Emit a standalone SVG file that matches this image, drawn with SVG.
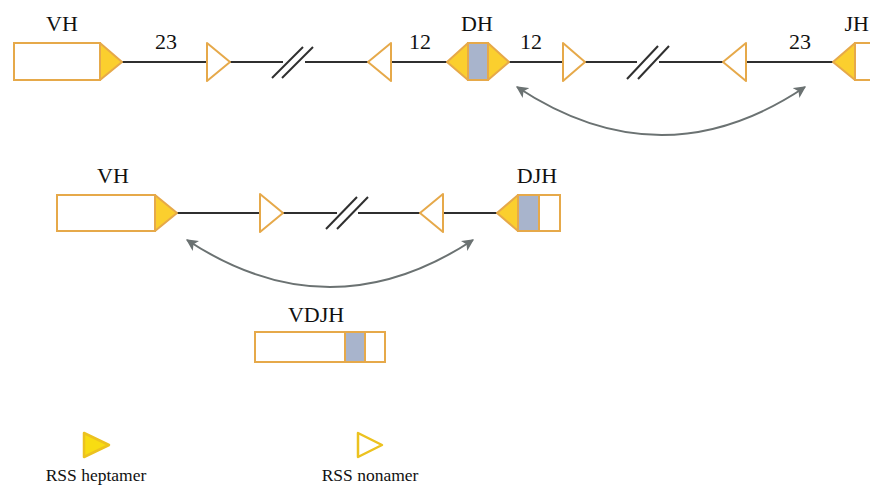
<svg xmlns="http://www.w3.org/2000/svg" width="870" height="487" viewBox="0 0 870 487">
  <defs>
    <marker id="arrowhead" viewBox="0 0 10 10" refX="9" refY="5" markerWidth="6" markerHeight="6" markerUnits="strokeWidth" orient="auto-start-reverse">
      <path d="M0,0 L10,5 L0,10 L2.5,5 Z" fill="#6b7272"/>
    </marker>
  </defs>
  <style>
    .lbl { font-family: "Liberation Serif", "Times New Roman", serif; font-size: 22px; fill: #111; text-anchor: middle; }
    .leg { font-family: "Liberation Serif", "Times New Roman", serif; font-size: 17.5px; fill: #111; text-anchor: middle; }
    .seg { fill: #ffffff; stroke: #e6a94a; stroke-width: 2; }
    .hep { fill: #fbcf2e; stroke: #e6a94a; stroke-width: 2; stroke-linejoin: round; }
    .non { fill: #ffffff; stroke: #e6a94a; stroke-width: 2; stroke-linejoin: round; }
    .d { fill: #a8b4cc; stroke: #e6a94a; stroke-width: 2; }
    .dna { stroke: #2f2f2f; stroke-width: 2; fill: none; }
    .brk { stroke: #2f2f2f; stroke-width: 2; }
    .arc { stroke: #6b7272; stroke-width: 2; fill: none; marker-start: url(#arrowhead); marker-end: url(#arrowhead); }
  </style>

  <!-- DNA backbone lines with break marks -->
  <g id="connectors">
    <!-- germline locus -->
    <line class="dna" x1="122" y1="62" x2="207" y2="62"/>
    <line class="dna" x1="230" y1="62" x2="283" y2="62"/>
    <line class="brk" x1="272" y1="78" x2="303" y2="47"/>
    <line class="brk" x1="282" y1="78" x2="313" y2="47"/>
    <line class="dna" x1="305" y1="62" x2="368" y2="62"/>
    <line class="dna" x1="391" y1="62" x2="447" y2="62"/>
    <line class="dna" x1="509" y1="62" x2="563" y2="62"/>
    <line class="dna" x1="585" y1="62" x2="637" y2="62"/>
    <line class="brk" x1="627" y1="79" x2="658" y2="46"/>
    <line class="brk" x1="638" y1="79" x2="669" y2="46"/>
    <line class="dna" x1="659" y1="62" x2="723" y2="62"/>
    <line class="dna" x1="746" y1="62" x2="833" y2="62"/>
    <!-- D-J joined locus -->
    <line class="dna" x1="177" y1="213" x2="260" y2="213"/>
    <line class="dna" x1="283" y1="213" x2="337" y2="213"/>
    <line class="brk" x1="326" y1="229" x2="357" y2="197"/>
    <line class="brk" x1="337" y1="229" x2="368" y2="197"/>
    <line class="dna" x1="358" y1="213" x2="420" y2="213"/>
    <line class="dna" x1="443" y1="213" x2="497" y2="213"/>
    <!-- recombination arcs -->
    <path class="arc" d="M517,87 Q662,183 805,87"/>
    <path class="arc" d="M187,240 Q330,334 473,240"/>
  </g>

  <!-- germline V segment -->
  <g id="vh-germline">
    <rect class="seg" x="14" y="43" width="86" height="37"/>
    <polygon class="hep" points="100,43 122,62 100,80"/>
    <text class="lbl" x="62" y="31">VH</text>
    <text class="lbl" x="166" y="49">23</text>
  </g>
  <g id="nonamer-1">
    <polygon class="non" points="207,43 230,62 207,81"/>
  </g>
  <g id="nonamer-2">
    <polygon class="non" points="391,43 368,62 391,81"/>
    <text class="lbl" x="420" y="49">12</text>
  </g>
  <g id="dh-germline">
    <polygon class="hep" points="468,43 447,62 468,80"/>
    <polygon class="hep" points="488,43 509,62 488,80"/>
    <rect class="d" x="468" y="43" width="20" height="37"/>
    <text class="lbl" x="477" y="31">DH</text>
    <text class="lbl" x="531" y="49">12</text>
  </g>
  <g id="nonamer-3">
    <polygon class="non" points="563,43 585,62 563,81"/>
  </g>
  <g id="nonamer-4">
    <polygon class="non" points="746,43 723,62 746,81"/>
    <text class="lbl" x="800" y="49">23</text>
  </g>
  <g id="jh-germline">
    <rect class="seg" x="855" y="43" width="30" height="37"/>
    <polygon class="hep" points="855,43 833,62 855,80"/>
    <text class="lbl" x="869" y="31" style="text-anchor: end">JH</text>
  </g>

  <!-- after D-J joining -->
  <g id="vh-djh-step">
    <rect class="seg" x="57" y="195" width="98" height="36"/>
    <polygon class="hep" points="155,195 177,213 155,231"/>
    <text class="lbl" x="113" y="183">VH</text>
  </g>
  <g id="nonamer-5">
    <polygon class="non" points="260,194 283,213 260,232"/>
  </g>
  <g id="nonamer-6">
    <polygon class="non" points="443,194 420,213 443,232"/>
  </g>
  <g id="djh">
    <rect class="seg" x="539" y="195" width="21" height="36"/>
    <rect class="d" x="518" y="195" width="21" height="36"/>
    <polygon class="hep" points="518,195 497,213 518,231"/>
    <text class="lbl" x="537" y="183">DJH</text>
  </g>

  <!-- rearranged VDJ -->
  <g id="vdjh">
    <rect class="seg" x="255" y="332" width="130" height="30"/>
    <rect class="d" x="345" y="332" width="20" height="30"/>
    <text class="lbl" x="316" y="322">VDJH</text>
  </g>

  <!-- legend -->
  <g id="legend-heptamer">
    <polygon points="84,433 109,445 84,457" fill="#f8dc12" stroke="#ecc21f" stroke-width="2.5" stroke-linejoin="round"/>
    <text class="leg" x="96" y="481">RSS heptamer</text>
  </g>
  <g id="legend-nonamer">
    <polygon points="358,433 382,445 358,457" fill="#ffffff" stroke="#ecc21f" stroke-width="2.5" stroke-linejoin="round"/>
    <text class="leg" x="370" y="481">RSS nonamer</text>
  </g>
</svg>
